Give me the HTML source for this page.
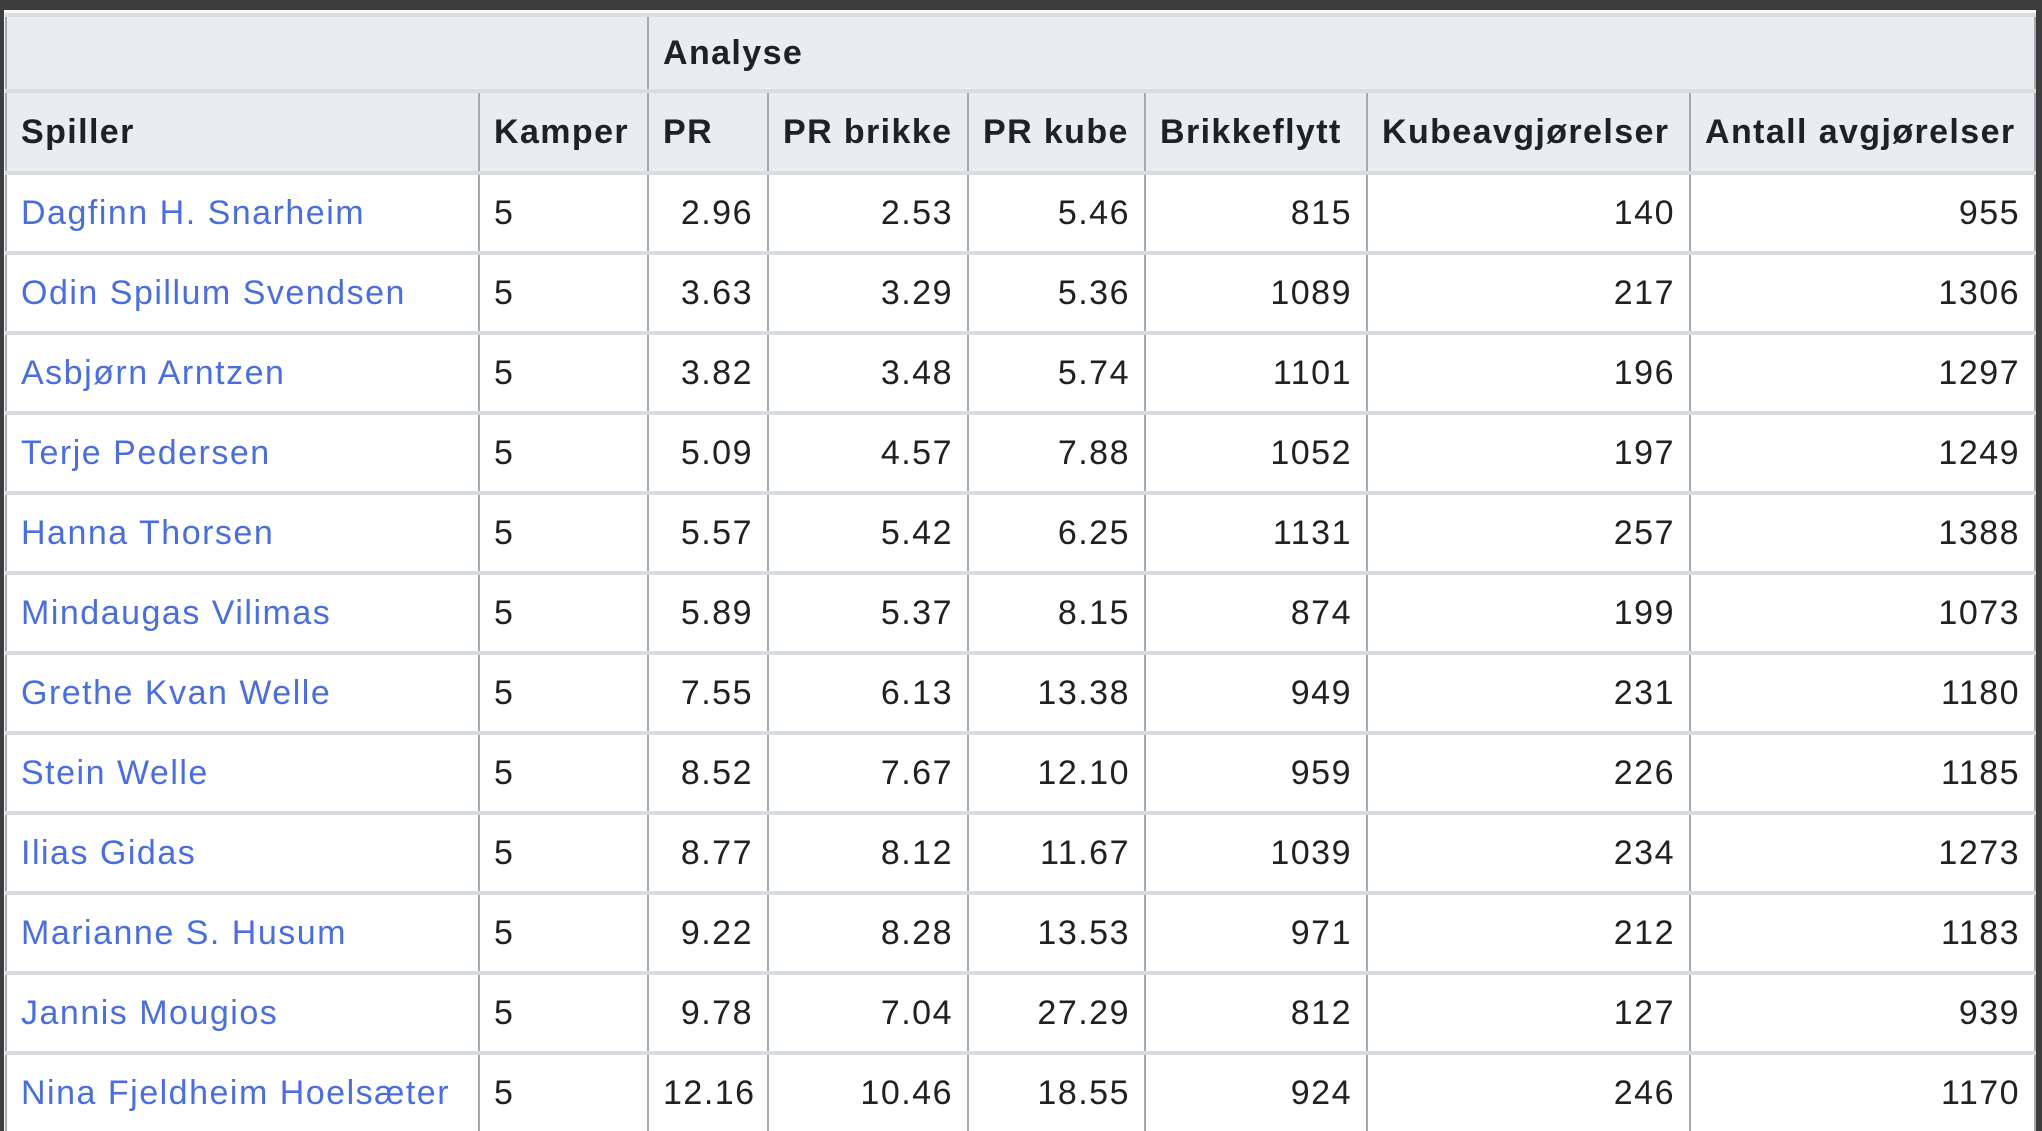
<!DOCTYPE html>
<html><head><meta charset="utf-8"><style>
html,body{margin:0;padding:0;width:2042px;height:1131px;overflow:hidden;background:#3d3d3d;}
.wrap{position:absolute;left:4px;top:10px;width:2032px;height:1121px;background:#f8f9fa;overflow:hidden;}
table{position:absolute;left:1px;top:3px;width:2029px;border-collapse:collapse;table-layout:fixed;font-family:"Liberation Sans",sans-serif;font-size:34px;letter-spacing:1.5px;color:#202122;background:#fff;}
td,th{padding:0 14px;white-space:nowrap;overflow:hidden;border-left:2px solid #a2a9b1;border-right:2px solid #a2a9b1;border-top:4px solid #d9dce0;border-bottom:4px solid #d9dce0;}
th{background:#eaecf0;text-align:left;font-weight:bold;letter-spacing:1.4px;}
td{text-align:right;height:76px;}
td.n{text-align:left;color:#4a6fdc;}
td.k{text-align:left;}
tr.h1 th{height:72px;}
tr.h2 th{height:78px;}
</style></head><body><div class="wrap">
<table>
<colgroup><col style="width:473px"><col style="width:169px"><col style="width:120px"><col style="width:200px"><col style="width:177px"><col style="width:222px"><col style="width:323px"><col style="width:345px"></colgroup>
<tr class="h1"><th colspan="2"></th><th colspan="6">Analyse</th></tr>
<tr class="h2"><th>Spiller</th><th>Kamper</th><th>PR</th><th>PR brikke</th><th>PR kube</th><th>Brikkeflytt</th><th>Kubeavgjørelser</th><th>Antall avgjørelser</th></tr>
<tr><td class="n">Dagfinn H. Snarheim</td><td class="k">5</td><td>2.96</td><td>2.53</td><td>5.46</td><td>815</td><td>140</td><td>955</td></tr>
<tr><td class="n">Odin Spillum Svendsen</td><td class="k">5</td><td>3.63</td><td>3.29</td><td>5.36</td><td>1089</td><td>217</td><td>1306</td></tr>
<tr><td class="n">Asbjørn Arntzen</td><td class="k">5</td><td>3.82</td><td>3.48</td><td>5.74</td><td>1101</td><td>196</td><td>1297</td></tr>
<tr><td class="n">Terje Pedersen</td><td class="k">5</td><td>5.09</td><td>4.57</td><td>7.88</td><td>1052</td><td>197</td><td>1249</td></tr>
<tr><td class="n">Hanna Thorsen</td><td class="k">5</td><td>5.57</td><td>5.42</td><td>6.25</td><td>1131</td><td>257</td><td>1388</td></tr>
<tr><td class="n">Mindaugas Vilimas</td><td class="k">5</td><td>5.89</td><td>5.37</td><td>8.15</td><td>874</td><td>199</td><td>1073</td></tr>
<tr><td class="n">Grethe Kvan Welle</td><td class="k">5</td><td>7.55</td><td>6.13</td><td>13.38</td><td>949</td><td>231</td><td>1180</td></tr>
<tr><td class="n">Stein Welle</td><td class="k">5</td><td>8.52</td><td>7.67</td><td>12.10</td><td>959</td><td>226</td><td>1185</td></tr>
<tr><td class="n">Ilias Gidas</td><td class="k">5</td><td>8.77</td><td>8.12</td><td>11.67</td><td>1039</td><td>234</td><td>1273</td></tr>
<tr><td class="n">Marianne S. Husum</td><td class="k">5</td><td>9.22</td><td>8.28</td><td>13.53</td><td>971</td><td>212</td><td>1183</td></tr>
<tr><td class="n">Jannis Mougios</td><td class="k">5</td><td>9.78</td><td>7.04</td><td>27.29</td><td>812</td><td>127</td><td>939</td></tr>
<tr><td class="n">Nina Fjeldheim Hoelsæter</td><td class="k">5</td><td>12.16</td><td>10.46</td><td>18.55</td><td>924</td><td>246</td><td>1170</td></tr>
</table></div></body></html>
